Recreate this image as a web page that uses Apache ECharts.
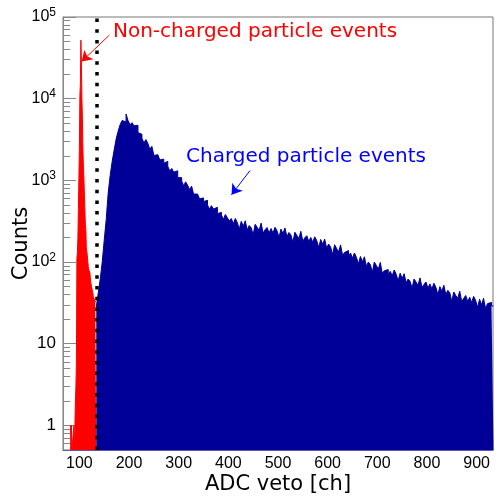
<!DOCTYPE html>
<html>
<head>
<meta charset="utf-8">
<script src="https://cdn.jsdelivr.net/npm/echarts@6/dist/echarts.min.js"></script>
<style>
html, body { margin: 0; padding: 0; background: #fff; }
#veto { width: 497px; height: 497px; }
</style>
</head>
<body>
<div id="veto"></div>
<script>
"use strict";

// red histogram: 1 channel per bin, starting at redStart
var redStart = 82;
var redCounts = [1, 0.5, 1, 0.5, 0.5, 0.5, 0.5, 1, 0.5, 0.5, 2, 3, 6, 110, 130, 200, 450, 1050, 2500, 11000,
    15000, 52000, 30000, 10500, 6000, 2500, 1600, 1100, 700, 450, 290, 250, 150, 150, 120, 100, 88, 80, 78, 75,
    65, 56, 53, 48, 45, 42, 38, 36, 35, 34, 33, 33];

// blue histogram: 4 channels per bin, starting at blueStart
var blueStart = 134;
var blueBinWidth = 4;
var blueCounts = [28, 42, 62, 100, 185, 330, 700, 1150, 1700, 2350, 3200, 4000, 4800,
    5410, 5190, 6500, 5400, 4790, 5090, 4650, 4730, 3840, 3670, 3280, 2880, 3160, 2820, 2400, 2610, 2020, 2060,
    2090, 1780, 1820, 1620, 1710, 1490, 1300, 1400, 1260, 1310, 1080, 1080, 980, 860, 960, 870, 770, 850, 680,
    680, 680, 595, 610, 550, 570, 500, 445, 490, 445, 468, 390, 406, 377, 333, 383, 348, 320,
    341, 294, 342, 305, 253, 315, 275, 320, 248, 280, 263, 216, 290, 267, 243, 300, 226, 249, 264, 227,
    257, 226, 267, 241, 201, 253, 223, 261, 205, 230, 215, 175, 232, 212, 194, 238, 180, 198, 210, 179,
    200, 175, 204, 183, 151, 189, 165, 191, 148, 166, 153, 124, 163, 147, 133, 162, 121, 131, 138, 117,
    129, 112, 129, 114, 95, 117, 101, 116, 89, 100, 93, 75, 100, 91, 82, 99, 73, 78, 81, 69,
    77, 68, 80, 71, 59, 73, 63, 72, 56, 62, 58, 48, 62, 57, 52, 64, 49, 53, 57, 48,
    54, 47, 55, 49, 40, 50, 44, 52, 40, 45, 42, 33, 43, 39, 36, 44, 33, 36, 39, 33,
    37, 32, 38, 34, 28, 35, 30, 36, 27, 31, 32, 29];

var cutChannel = 135;
var redArrow = [[160.5, 60000], [104.6, 28600]];
var blueArrow = [[443.7, 1320], [406.4, 668]];

var xTickLabels = [100, 200, 300, 400, 500, 600, 700, 800, 900];
var yTickLabels = [1, 10, 100, 1000, 10000, 100000];

function steps(start, width, counts) {
    var d = [];
    for (var i = 0; i < counts.length; i++) d.push([start + i * width, counts[i]]);
    d.push([start + counts.length * width, counts[counts.length - 1]]);
    return d;
}

var yMinor = [0.6, 0.7, 0.8, 0.9];
for (var k = 0; k < 5; k++) {
    for (var m = 2; m < 10; m++) yMinor.push(m * Math.pow(10, k));
}

var narrow = '"Liberation Sans Narrow", "Liberation Sans", sans-serif';
var dejavu = '"DejaVu Sans", sans-serif';

function histo(name, data, color) {
    return {
        name: name,
        type: "line",
        step: "end",
        symbol: "none",
        silent: true,
        animation: false,
        data: data,
        lineStyle: { color: color, width: 1 },
        areaStyle: { color: color, opacity: 1, origin: "start" }
    };
}

function arrow(pts) {
    return [{ coord: pts[0], symbol: "none" }, { coord: pts[1], symbol: "arrow" }];
}

var red = histo("Non-charged", steps(redStart, 1, redCounts), "#ff0000");
red.markLine = {
    silent: true,
    animation: false,
    symbol: "none",
    symbolSize: 10,
    label: { show: false },
    lineStyle: { color: "#ff0000", width: 1, type: "solid" },
    data: [arrow(redArrow)]
};

var blue = histo("Charged", steps(blueStart, blueBinWidth, blueCounts), "#000099");
blue.markLine = {
    silent: true,
    animation: false,
    symbol: "none",
    symbolSize: 10,
    label: { show: false },
    lineStyle: { color: "#0000ff", width: 1, type: "solid" },
    data: [
        { xAxis: cutChannel, lineStyle: { color: "#000", width: 3.5, type: [3.5, 7.2] } },
        arrow(blueArrow)
    ]
};

var option = {
    animation: false,
    grid: {
        left: 63, right: 4, top: 17, bottom: 47,
        outerBoundsMode: "none",
        show: true, borderColor: "#777", borderWidth: 1
    },
    xAxis: {
        type: "value",
        min: 67,
        max: 933,
        axisLine: { lineStyle: { color: "#5a5ab4" } },
        axisTick: { show: false },
        axisLabel: { customValues: xTickLabels, fontFamily: narrow, fontSize: 16, color: "#000", margin: 6 },
        splitLine: { show: false },
        name: "ADC veto [ch]",
        nameLocation: "middle",
        nameGap: 24,
        nameMoveOverlap: false,
        nameTextStyle: { fontFamily: dejavu, fontSize: 21, color: "#000" }
    },
    yAxis: [{
        type: "log",
        logBase: 10,
        min: 0.5,
        max: 100000,
        axisLine: { show: true, lineStyle: { color: "#888" } },
        axisTick: { inside: true, length: 13, customValues: yTickLabels, lineStyle: { color: "#888" } },
        axisLabel: {
            customValues: yTickLabels,
            margin: 7,
            color: "#000",
            formatter: function (v) {
                var e = Math.round(Math.log10(v));
                if (e === 0) return "{b|1}";
                if (e === 1) return "{b|10}";
                return "{m|10}{s|" + e + "}";
            },
            rich: {
                b: { fontFamily: narrow, fontSize: 17, color: "#000" },
                m: { fontFamily: narrow, fontSize: 16, color: "#000" },
                s: { fontFamily: narrow, fontSize: 12, color: "#000", padding: [0, 0, 9, 0] }
            }
        },
        splitLine: { show: false },
        name: "Counts",
        nameLocation: "middle",
        nameGap: 31,
        nameMoveOverlap: false,
        nameTextStyle: { fontFamily: dejavu, fontSize: 21, color: "#000", padding: [0, 0, 0, -20] }
    }, {
        type: "log",
        logBase: 10,
        min: 0.5,
        max: 100000,
        position: "left",
        axisLine: { show: false },
        axisTick: { inside: true, length: 7, customValues: yMinor, lineStyle: { color: "#888" } },
        axisLabel: { show: false },
        splitLine: { show: false }
    }],
    graphic: [{
        type: "text",
        left: 113,
        top: 22,
        style: { text: "Non-charged particle events", fill: "#ff0000", font: "20px " + dejavu }
    }, {
        type: "text",
        left: 186,
        top: 147,
        style: { text: "Charged particle events", fill: "#0000ff", font: "20px " + dejavu }
    }],
    series: [red, blue]
};

echarts.init(document.getElementById("veto")).setOption(option);
</script>
</body>
</html>
